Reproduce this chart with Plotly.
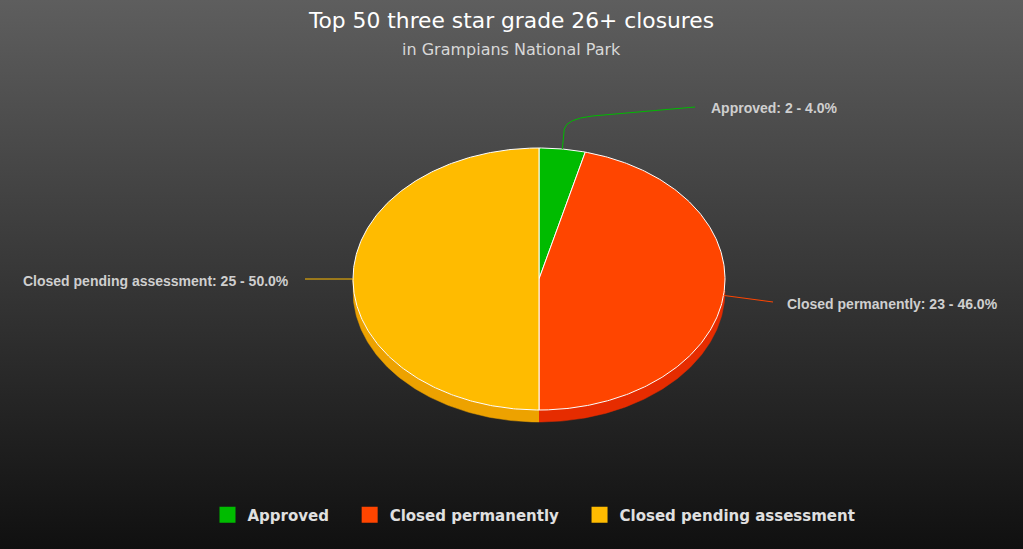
import base64
import numpy as np
import plotly.graph_objects as go

# ---------------- data ----------------
categories = ["Approved", "Closed permanently", "Closed pending assessment"]
values = [2, 23, 25]

# ---------------- style ----------------
top_colors = ["#00bb00", "#ff4500", "#ffbb00"]
side_colors = ["#00a200", "#e62c00", "#eda200"]
W, H = 1023, 549
CX, CY, RX, RY, DEPTH = 539, 279, 186, 131, 12
LABEL_FONT = dict(family="Liberation Sans, Arial, sans-serif", size=14, color="#cfcfcf", weight="bold")
# label anchor (x, y, align) per slice
label_layout = [(709, 108, "left"), (785, 304, "left"), (291, 281, "right")]
NBSP = "\u00a0"


def ept(t, dy=0.0):
    t = np.asarray(t)
    return CX + RX * np.sin(t), CY - RY * np.cos(t) + dy


total = sum(values)
cum = np.concatenate([[0.0], np.cumsum(values)]) / total * 2 * np.pi

fig = go.Figure()

# side walls (front half only)
for i, (a, b) in enumerate(zip(cum[:-1], cum[1:])):
    lo, hi = max(a, np.pi / 2), min(b, 3 * np.pi / 2)
    if hi <= lo:
        continue
    t = np.linspace(lo, hi, 120)
    xt, yt = ept(t)
    xb, yb = ept(t[::-1], DEPTH)
    fig.add_trace(go.Scatter(
        x=np.concatenate([xt, xb]), y=np.concatenate([yt, yb]),
        fill="toself", fillcolor=side_colors[i], mode="lines",
        line=dict(color=side_colors[i], width=0.5),
        showlegend=False, hoverinfo="skip"))

# top faces
for i, (a, b) in enumerate(zip(cum[:-1], cum[1:])):
    t = np.linspace(a, b, max(int((b - a) * 80), 10))
    xa, ya = ept(t)
    fig.add_trace(go.Scatter(
        x=np.concatenate([[CX], xa, [CX]]), y=np.concatenate([[CY], ya, [CY]]),
        fill="toself", fillcolor=top_colors[i], mode="lines",
        line=dict(color="white", width=1),
        showlegend=False, hoverinfo="skip"))

# legend entries
for i, name in enumerate(categories):
    pad = NBSP * 3 if i < len(categories) - 1 else ""
    fig.add_trace(go.Scatter(
        x=[None], y=[None], mode="markers", name=name + pad,
        marker=dict(symbol="square", size=16, color=top_colors[i]),
        showlegend=True, hoverinfo="skip"))

# data labels + connectors
shapes = []
annotations = []
for i, name in enumerate(categories):
    mid = (cum[i] + cum[i + 1]) / 2
    sx, sy = ept(mid)
    sx, sy = float(sx), float(sy)
    lx, ly, align = label_layout[i]
    pct = values[i] / total * 100
    annotations.append(dict(
        x=lx, y=ly, xref="x", yref="y", showarrow=False,
        text=f"{name}: {values[i]} - {pct:.1f}%",
        xanchor=align, yanchor="middle", font=LABEL_FONT))
    if align == "left" and sy < CY - RY / 2:
        ex = lx - 14
        path = (f"M {sx} {sy} L {sx + 2} {sy - 20} "
                f"Q {sx + 4} {sy - 30} {sx + 30} {sy - 33} L {ex} {ly - 1}")
    elif align == "left":
        ex = lx - 12
        path = f"M {sx} {sy} L {ex} {ly - 2}"
    else:
        ex = lx + 14
        path = f"M {sx} {sy} L {ex} {sy}"
    shapes.append(dict(type="path", path=path, xref="x", yref="y",
                       line=dict(color=top_colors[i], width=1)))

annotations.append(dict(
    x=0.5, y=1 - 50 / H, xref="paper", yref="paper", showarrow=False,
    text="in Grampians National Park", xanchor="center", yanchor="middle",
    font=dict(family="DejaVu Sans, sans-serif", size=16, color="#d8d8d8")))

svg = (f'<svg xmlns="http://www.w3.org/2000/svg" width="{W}" height="{H}" preserveAspectRatio="none">'
       '<defs><linearGradient id="g" x1="0" y1="0" x2="0" y2="1">'
       '<stop offset="0" stop-color="#5e5e5e"/><stop offset="1" stop-color="#101010"/>'
       '</linearGradient></defs><rect width="100%" height="100%" fill="url(#g)"/></svg>')
src = "data:image/svg+xml;base64," + base64.b64encode(svg.encode()).decode()

fig.update_layout(
    width=W, height=H,
    margin=dict(l=0, r=0, t=0, b=0),
    paper_bgcolor="#303030",
    plot_bgcolor="rgba(0,0,0,0)",
    images=[dict(source=src, xref="paper", yref="paper", x=0, y=1, sizex=1, sizey=1,
                 xanchor="left", yanchor="top", sizing="stretch", layer="below")],
    xaxis=dict(range=[0, W], visible=False, fixedrange=True),
    yaxis=dict(range=[H, 0], visible=False, fixedrange=True),
    title=dict(text="Top 50 three star grade 26+ closures", x=0.5, xanchor="center",
               y=1 - 20 / H, yanchor="middle",
               font=dict(family="DejaVu Sans, sans-serif", size=21.8, color="#ffffff")),
    legend=dict(orientation="h", x=0.522, xanchor="center", y=1 - 515 / H, yanchor="middle",
                font=dict(family="DejaVu Sans, sans-serif", size=15, color="#e0e0e0", weight="bold"),
                bgcolor="rgba(0,0,0,0)", itemclick=False, itemdoubleclick=False),
    shapes=shapes,
    annotations=annotations,
    hovermode=False,
)

fig.write_html("out.html", config={"displayModeBar": False},
               post_script="document.body.style.margin='0';document.body.style.overflow='hidden';")
